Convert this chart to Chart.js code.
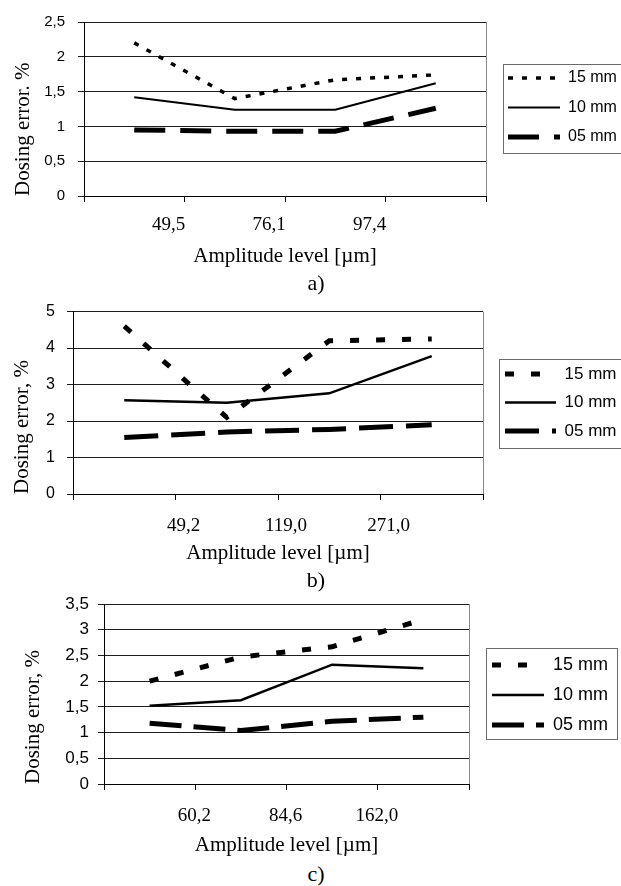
<!DOCTYPE html>
<html><head><meta charset="utf-8">
<script src="https://cdn.jsdelivr.net/npm/chart.js@4.4.1/dist/chart.umd.min.js"></script>
<style>
html,body{margin:0;padding:0;background:#fff;overflow:hidden;width:621px;height:886px;}
.wrap{position:absolute;left:0;width:621px;}
canvas{display:block;}
.cap{position:absolute;font-family:"Liberation Serif","Times New Roman",serif;font-size:22px;line-height:22px;color:#000;width:60px;text-align:center;}
</style></head><body>
<div class="wrap" style="top:0px"><canvas id="ca" width="621" height="272"></canvas></div>
<div class="wrap" style="top:290px"><canvas id="cb" width="621" height="280"></canvas></div>
<div class="wrap" style="top:580px"><canvas id="cc" width="621" height="280"></canvas></div>
<div class="cap" style="left:286px;top:272px">a)</div>
<div class="cap" style="left:286px;top:569px">b)</div>
<div class="cap" style="left:286px;top:863px">c)</div>
<script>
// ---- data ----
const seriesNames = ['15 mm', '10 mm', '05 mm'];
const pointIndex = [1, 2, 3, 4];
const xTitle = 'Amplitude level [µm]';

// a)
const ticksA = ['49,5', '76,1', '97,4'];
const a15 = [2.2, 1.4, 1.67, 1.74];
const a10 = [1.42, 1.24, 1.24, 1.62];
const a05 = [0.95, 0.93, 0.93, 1.26];
const yTitleA = 'Dosing error. %';

// b)
const ticksB = ['49,2', '119,0', '271,0'];
const b15 = [4.6, 2.1, 4.2, 4.25];
const b10 = [2.57, 2.5, 2.76, 3.78];
const b05 = [1.55, 1.7, 1.77, 1.9];
const yTitleB = 'Dosing error, %';

// c)
const ticksC = ['60,2', '84,6', '162,0'];
const c15 = [2.0, 2.47, 2.67, 3.2];
const c10 = [1.52, 1.63, 2.32, 2.25];
const c05 = [1.18, 1.04, 1.22, 1.3];
const yTitleC = 'Dosing error, %';

// ---- rendering ----
const SANS = "'Liberation Sans', Arial, sans-serif";
const SERIF = "'Liberation Serif', 'Times New Roman', serif";
Chart.defaults.animation = false;
Chart.defaults.color = '#000';

const xBounds = [pointIndex[0] - 0.5, ...pointIndex.map(p => p + 0.5)];

const framePlugin = {
  id: 'frame',
  beforeLayout(chart, args, o) {
    const lg = chart.legend;
    if (lg && !lg.__fixed) {
      const f = lg.fit;
      lg.fit = function () { f.call(this); this.width = o.legendWidth; };
      lg.__fixed = true;
    }
  },
  afterLayout(chart, args, o) {
    const lg = chart.legend; if (!lg) return;
    const pad = o.legPad, fs = o.legFont;
    const w = lg.width, h = lg.height;
    lg.left = o.sampleX - pad; lg.right = lg.left + w;
    lg.top = o.firstY - pad - fs / 2; lg.bottom = lg.top + h;
  },
  afterDraw(chart, args, o) {
    const {ctx, chartArea: a} = chart;
    ctx.save();
    ctx.strokeStyle = '#8a8a8a'; ctx.lineWidth = 1;
    ctx.beginPath();
    const rx = Math.round(a.right) + 0.5;
    ctx.moveTo(rx, a.top); ctx.lineTo(rx, a.bottom); ctx.stroke();
    const b = o.box;
    ctx.strokeStyle = '#6a6a6a';
    ctx.strokeRect(b.x + 0.5, b.y + 0.5, b.w, b.h);
    ctx.restore();
  }
};

function ds(label, vals, width, dash) {
  return {
    label, data: vals.map((v, i) => ({x: pointIndex[i], y: v})),
    borderColor: '#000', backgroundColor: '#000', borderWidth: width, borderDash: dash,
    borderCapStyle: 'butt', pointRadius: 0, pointHoverRadius: 0, tension: 0, fill: false
  };
}

function makeChart(id, c) {
  const H = c.H;
  new Chart(document.getElementById(id), {
    type: 'line',
    data: {
      datasets: [
        ds(seriesNames[0], c.s15, c.w15, c.d15),
        ds(seriesNames[1], c.s10, c.w10, []),
        ds(seriesNames[2], c.s05, c.w05, c.d05)
      ]
    },
    options: {
      responsive: false, animation: false,
      layout: {padding: {top: c.area.top, left: 0, right: 0, bottom: 0}},
      scales: {
        x: {
          type: 'linear', min: xBounds[0], max: xBounds[xBounds.length - 1],
          afterBuildTicks: s => { s.ticks = xBounds.map(v => ({value: v})); },
          afterFit: s => { s.height = H - c.area.bottom; },
          ticks: {
            autoSkip: false, maxRotation: 0, color: '#000',
            font: {family: SERIF, size: 19}, padding: c.xPad, labelOffset: c.xOff,
            callback: (v, i) => (i >= 1 && i <= c.ticks.length) ? c.ticks[i - 1] : ''
          },
          grid: {drawOnChartArea: false, drawTicks: true, tickLength: 6, color: '#000'},
          border: {display: true, color: '#000', width: 1},
          title: {display: true, text: xTitle, color: '#000', font: {family: SERIF, size: 21}, padding: {top: 0, bottom: c.xTitlePad}}
        },
        y: {
          min: 0, max: c.yMax,
          afterFit: s => { s.width = c.area.left; },
          ticks: {
            stepSize: c.yStep, color: '#000', font: {family: SANS, size: c.yFont}, padding: c.yPad,
            callback: v => String(v).replace('.', ',')
          },
          grid: {color: '#1e1e1e', lineWidth: 1, tickLength: 6, drawTicks: true},
          border: {display: true, color: '#000', width: 1},
          title: {display: true, text: c.yTitle, align: 'start', color: '#000', font: {family: SERIF, size: 21}, padding: {top: c.yTitlePad, bottom: 0}}
        }
      },
      plugins: {
        tooltip: {enabled: false},
        legend: {
          display: true, position: 'right', align: 'start',
          labels: {
            usePointStyle: true, pointStyle: 'line', pointStyleWidth: c.sampleW,
            color: '#000', font: {family: SANS, size: c.legFont}, padding: c.legPad,
            generateLabels: (chart) => {
              const items = Chart.defaults.plugins.legend.labels.generateLabels(chart);
              items.forEach(it => {
                const d = chart.data.datasets[it.datasetIndex];
                it.lineDash = d.borderDash || [];
                it.lineWidth = d.borderWidth;
                it.strokeStyle = d.borderColor;
                it.lineCap = 'butt';
              });
              return items;
            }
          }
        },
        frame: {
          legendWidth: 621 - c.area.right, sampleX: c.sampleX, firstY: c.firstY,
          legPad: c.legPad, legFont: c.legFont, box: c.box
        }
      }
    },
    plugins: [framePlugin]
  });
}

makeChart('ca', {
  H: 272, area: {left: 84, right: 486, top: 19, bottom: 196},
  s15: a15, s10: a10, s05: a05, ticks: ticksA, yTitle: yTitleA,
  w15: 3.5, d15: [5, 9], w10: 2, w05: 5, d05: [31, 15],
  yMax: 2.5, yStep: 0.5, yFont: 15, yPad: 13, yTitlePad: 10.4,
  xOff: -16, xPad: 11.6, xTitlePad: 3.4,
  legFont: 16, legPad: 13.5, sampleX: 508, sampleW: 52, firstY: 78,
  box: {x: 503, y: 64, w: 130, h: 89}
});

makeChart('cb', {
  H: 280, area: {left: 73, right: 483, top: 21, bottom: 204},
  s15: b15, s10: b10, s05: b05, ticks: ticksB, yTitle: yTitleB,
  w15: 5, d15: [9, 17], w10: 2.5, w05: 5, d05: [34, 13],
  yMax: 5, yStep: 1, yFont: 16, yPad: 12, yTitlePad: 10,
  xOff: 8, xPad: 14.6, xTitlePad: 4.4,
  legFont: 17, legPad: 11.5, sampleX: 505, sampleW: 51, firstY: 84,
  box: {x: 499, y: 69, w: 130, h: 89}
});

makeChart('cc', {
  H: 280, area: {left: 104, right: 469, top: 24, bottom: 204},
  s15: c15, s10: c10, s05: c05, ticks: ticksC, yTitle: yTitleC,
  w15: 5, d15: [9, 17], w10: 2.5, w05: 5, d05: [32, 12],
  yMax: 3.5, yStep: 0.5, yFont: 17, yPad: 9, yTitlePad: 21,
  xOff: -1, xPad: 14.6, xTitlePad: 2.4,
  legFont: 18, legPad: 12, sampleX: 492, sampleW: 52, firstY: 85,
  box: {x: 486, y: 68, w: 131, h: 91}
});
</script>
</body></html>
